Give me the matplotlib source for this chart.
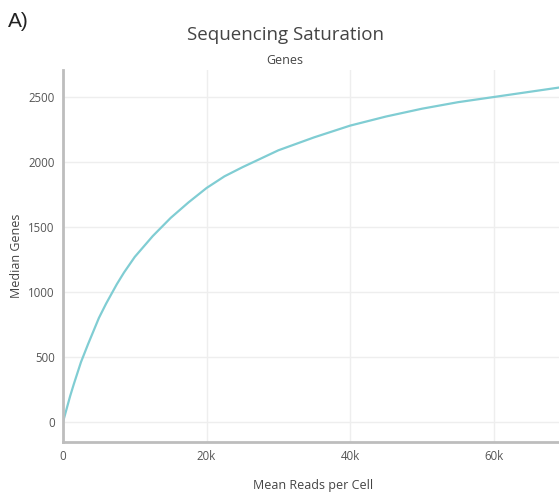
import matplotlib
matplotlib.use('Agg')
import matplotlib.pyplot as plt

# values
mean_reads = [0, 500, 1000, 1500, 2500, 3500, 5000, 6000, 7500, 8500, 10000,
              12500, 15000, 17500, 20000, 22500, 25000, 30000, 35000, 40000,
              45000, 50000, 55000, 60000, 65000, 70000]
median_genes = [0, 100, 200, 290, 460, 600, 800, 910, 1060, 1150, 1270,
                1430, 1570, 1690, 1800, 1890, 1960, 2090, 2190, 2280,
                2350, 2410, 2460, 2500, 2540, 2580]
x_ticks = [0, 20000, 40000, 60000]
x_tick_labels = ['0', '20k', '40k', '60k']
y_ticks = [0, 500, 1000, 1500, 2000, 2500]

plt.rcParams['font.family'] = ['Open Sans', 'DejaVu Sans']

fig = plt.figure(figsize=(5.59, 5.01), dpi=100)
ax = fig.add_axes([0.1127, 0.1178, 0.8873, 0.7425])

ax.plot(mean_reads, median_genes, color='#80cdd3', linewidth=1.6)

ax.set_xlim(0, 69100)
ax.set_ylim(-154, 2708)
ax.set_xticks(x_ticks)
ax.set_xticklabels(x_tick_labels)
ax.set_yticks(y_ticks)
ax.tick_params(length=0, labelsize=8.3, labelcolor='#555555', pad=6)
ax.grid(True, color='#eeeeee', linewidth=1)
ax.set_axisbelow(True)

for side in ['top', 'right']:
    ax.spines[side].set_visible(False)
for side in ['left', 'bottom']:
    ax.spines[side].set_color('#bdbdbd')
    ax.spines[side].set_linewidth(2)

ax.set_ylabel('Median Genes', fontsize=9, color='#444444', labelpad=4)
fig.text(0.56, 0.018, 'Mean Reads per Cell', ha='center', va='bottom',
         fontsize=9, color='#444444')

fig.text(0.51, 0.93, 'Sequencing Saturation', ha='center', va='center',
         fontsize=13.5, color='#444444')
fig.text(0.51, 0.88, 'Genes', ha='center', va='center',
         fontsize=9, color='#444444')
fig.text(0.015, 0.958, 'A)', ha='left', va='center', fontsize=15,
         color='#222222', family=['Liberation Sans', 'DejaVu Sans'])

fig.savefig('out.png', dpi=100)
